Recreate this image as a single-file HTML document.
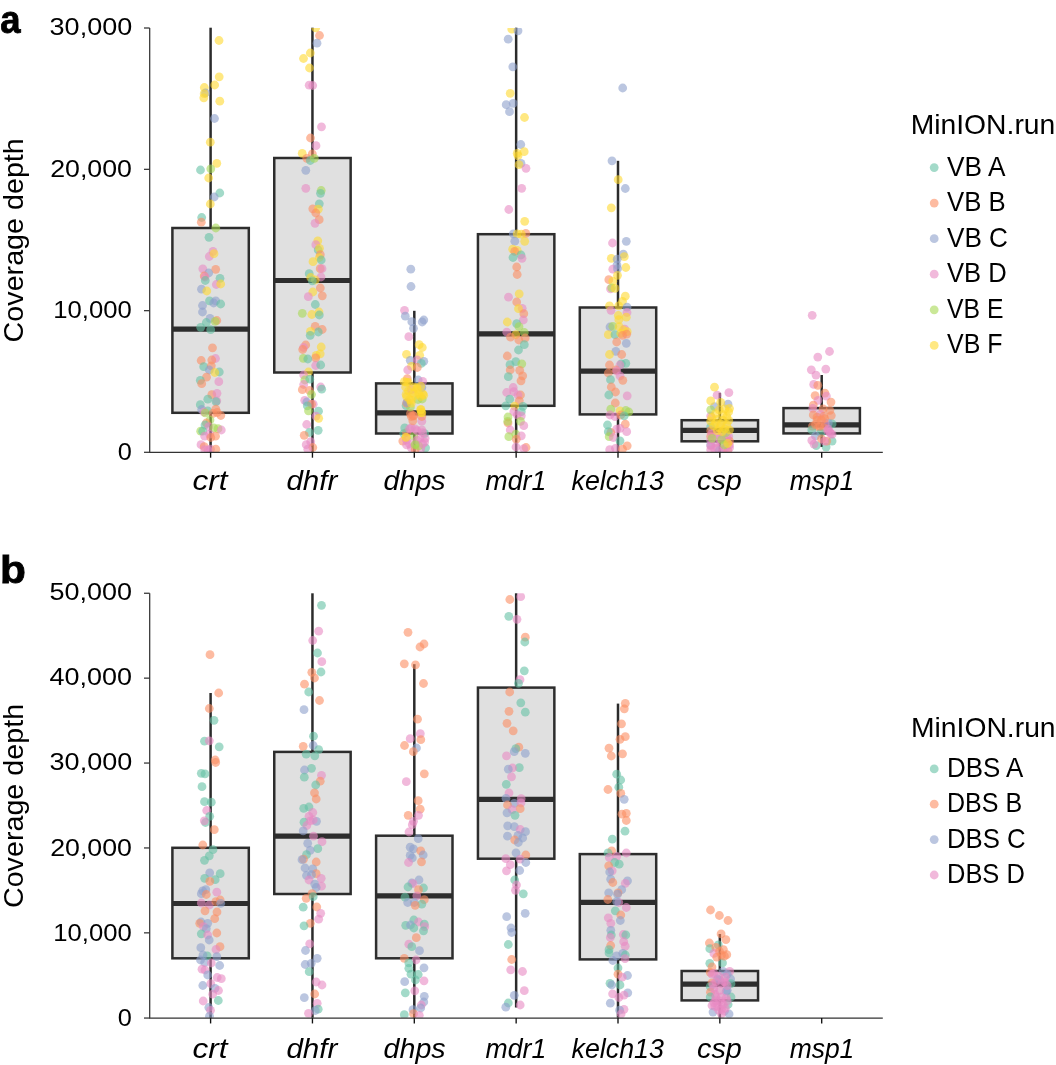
<!DOCTYPE html>
<html lang="en"><head><meta charset="utf-8"><title>Coverage depth</title>
<style>html,body{margin:0;padding:0;background:#fff}body{width:1056px;height:1065px;overflow:hidden}svg{display:block}
text{font-family:"Liberation Sans",sans-serif;fill:#000}.it{font-style:italic}.pl{font-weight:bold}
.bx{fill:#e0e0e0;stroke:#2d2d2d;stroke-width:2.5}.ln{stroke:#2b2b2b;stroke-width:2.5;fill:none}.md{stroke:#2d2d2d;stroke-width:5.2;fill:none}.ax{stroke:#333;stroke-width:1.25;fill:none}.tk{stroke:#111;stroke-width:1.35;fill:none}
.t{fill:#66C2A5;fill-opacity:0.6}
.o{fill:#FC8D62;fill-opacity:0.6}
.b{fill:#8DA0CB;fill-opacity:0.6}
.p{fill:#E78AC3;fill-opacity:0.6}
.g{fill:#A6D854;fill-opacity:0.6}
.y{fill:#FFD92F;fill-opacity:0.6}
</style></head><body>
<svg width="1056" height="1065" viewBox="0 0 1056 1065">
<rect width="1056" height="1065" fill="#fff"/>
<line class="ln" x1="210.60" y1="27.70" x2="210.60" y2="228.00"/>
<line class="ln" x1="210.60" y1="412.80" x2="210.60" y2="452.00"/>
<rect class="bx" x="172.40" y="228.00" width="76.40" height="184.80"/>
<line class="md" x1="172.40" y1="329.20" x2="248.80" y2="329.20"/>
<line class="ln" x1="312.45" y1="27.70" x2="312.45" y2="158.00"/>
<line class="ln" x1="312.45" y1="372.50" x2="312.45" y2="452.00"/>
<rect class="bx" x="274.25" y="158.00" width="76.40" height="214.50"/>
<line class="md" x1="274.25" y1="280.50" x2="350.65" y2="280.50"/>
<line class="ln" x1="414.30" y1="310.80" x2="414.30" y2="383.40"/>
<line class="ln" x1="414.30" y1="433.50" x2="414.30" y2="452.00"/>
<rect class="bx" x="376.10" y="383.40" width="76.40" height="50.10"/>
<line class="md" x1="376.10" y1="412.80" x2="452.50" y2="412.80"/>
<line class="ln" x1="516.15" y1="27.70" x2="516.15" y2="234.20"/>
<line class="ln" x1="516.15" y1="405.80" x2="516.15" y2="452.00"/>
<rect class="bx" x="477.95" y="234.20" width="76.40" height="171.60"/>
<line class="md" x1="477.95" y1="333.80" x2="554.35" y2="333.80"/>
<line class="ln" x1="618.00" y1="160.80" x2="618.00" y2="307.50"/>
<line class="ln" x1="618.00" y1="414.40" x2="618.00" y2="452.00"/>
<rect class="bx" x="579.80" y="307.50" width="76.40" height="106.90"/>
<line class="md" x1="579.80" y1="371.20" x2="656.20" y2="371.20"/>
<line class="ln" x1="719.85" y1="392.80" x2="719.85" y2="420.20"/>
<line class="ln" x1="719.85" y1="441.30" x2="719.85" y2="452.00"/>
<rect class="bx" x="681.65" y="420.20" width="76.40" height="21.10"/>
<line class="md" x1="681.65" y1="430.30" x2="758.05" y2="430.30"/>
<line class="ln" x1="821.70" y1="375.00" x2="821.70" y2="408.10"/>
<line class="ln" x1="821.70" y1="433.40" x2="821.70" y2="447.00"/>
<rect class="bx" x="783.50" y="408.10" width="76.40" height="25.30"/>
<line class="md" x1="783.50" y1="424.80" x2="859.90" y2="424.80"/>
<clipPath id="cpa"><rect x="149.50" y="28.00" width="733.30" height="424.00"/></clipPath>
<g clip-path="url(#cpa)">
<circle class="y" cx="219.0" cy="40.5" r="4.4"/>
<circle class="y" cx="219.2" cy="76.8" r="4.4"/>
<circle class="y" cx="214.7" cy="85.0" r="4.4"/>
<circle class="y" cx="204.3" cy="87.5" r="4.4"/>
<circle class="b" cx="205.5" cy="93.0" r="4.4"/>
<circle class="y" cx="204.2" cy="93.7" r="4.4"/>
<circle class="y" cx="203.8" cy="97.8" r="4.4"/>
<circle class="y" cx="219.8" cy="101.2" r="4.4"/>
<circle class="b" cx="214.5" cy="118.5" r="4.4"/>
<circle class="y" cx="210.3" cy="142.2" r="4.4"/>
<circle class="y" cx="216.8" cy="163.3" r="4.4"/>
<circle class="t" cx="200.5" cy="170.0" r="4.4"/>
<circle class="g" cx="210.8" cy="168.8" r="4.4"/>
<circle class="y" cx="208.7" cy="178.0" r="4.4"/>
<circle class="t" cx="219.8" cy="193.0" r="4.4"/>
<circle class="b" cx="214.2" cy="197.0" r="4.4"/>
<circle class="y" cx="210.3" cy="204.0" r="4.4"/>
<circle class="t" cx="201.7" cy="217.5" r="4.4"/>
<circle class="o" cx="201.3" cy="222.2" r="4.4"/>
<circle class="g" cx="215.8" cy="228.0" r="4.4"/>
<circle class="t" cx="209.0" cy="237.3" r="4.4"/>
<circle class="p" cx="213.0" cy="251.3" r="4.4"/>
<circle class="p" cx="209.3" cy="256.5" r="4.4"/>
<circle class="y" cx="214.0" cy="253.7" r="4.4"/>
<circle class="p" cx="202.8" cy="268.8" r="4.4"/>
<circle class="o" cx="215.7" cy="269.3" r="4.4"/>
<circle class="b" cx="208.7" cy="273.0" r="4.4"/>
<circle class="o" cx="204.2" cy="276.0" r="4.4"/>
<circle class="p" cx="205.0" cy="277.0" r="4.4"/>
<circle class="t" cx="205.3" cy="280.5" r="4.4"/>
<circle class="t" cx="220.0" cy="278.3" r="4.4"/>
<circle class="p" cx="216.3" cy="284.5" r="4.4"/>
<circle class="y" cx="220.7" cy="284.0" r="4.4"/>
<circle class="b" cx="201.5" cy="289.2" r="4.4"/>
<circle class="y" cx="206.8" cy="291.0" r="4.4"/>
<circle class="t" cx="209.5" cy="300.8" r="4.4"/>
<circle class="b" cx="215.7" cy="300.8" r="4.4"/>
<circle class="b" cx="213.7" cy="303.0" r="4.4"/>
<circle class="t" cx="220.7" cy="304.0" r="4.4"/>
<circle class="b" cx="202.5" cy="305.5" r="4.4"/>
<circle class="b" cx="202.5" cy="312.0" r="4.4"/>
<circle class="b" cx="210.0" cy="318.3" r="4.4"/>
<circle class="o" cx="216.8" cy="320.5" r="4.4"/>
<circle class="g" cx="215.2" cy="321.3" r="4.4"/>
<circle class="t" cx="206.3" cy="322.5" r="4.4"/>
<circle class="t" cx="200.7" cy="327.3" r="4.4"/>
<circle class="t" cx="210.7" cy="329.7" r="4.4"/>
<circle class="o" cx="212.5" cy="347.8" r="4.4"/>
<circle class="p" cx="215.5" cy="358.5" r="4.4"/>
<circle class="o" cx="201.2" cy="360.5" r="4.4"/>
<circle class="o" cx="211.8" cy="360.0" r="4.4"/>
<circle class="t" cx="203.7" cy="366.7" r="4.4"/>
<circle class="o" cx="211.3" cy="365.8" r="4.4"/>
<circle class="b" cx="209.3" cy="370.0" r="4.4"/>
<circle class="t" cx="219.3" cy="372.0" r="4.4"/>
<circle class="y" cx="214.8" cy="372.5" r="4.4"/>
<circle class="o" cx="206.5" cy="377.2" r="4.4"/>
<circle class="t" cx="200.3" cy="380.3" r="4.4"/>
<circle class="o" cx="201.7" cy="383.7" r="4.4"/>
<circle class="p" cx="218.8" cy="381.7" r="4.4"/>
<circle class="o" cx="211.8" cy="394.7" r="4.4"/>
<circle class="p" cx="217.0" cy="393.3" r="4.4"/>
<circle class="t" cx="207.8" cy="399.2" r="4.4"/>
<circle class="p" cx="216.8" cy="400.8" r="4.4"/>
<circle class="t" cx="216.0" cy="401.7" r="4.4"/>
<circle class="t" cx="200.3" cy="404.7" r="4.4"/>
<circle class="t" cx="207.7" cy="410.8" r="4.4"/>
<circle class="b" cx="201.7" cy="409.5" r="4.4"/>
<circle class="p" cx="203.8" cy="412.0" r="4.4"/>
<circle class="g" cx="205.2" cy="412.8" r="4.4"/>
<circle class="o" cx="215.8" cy="409.2" r="4.4"/>
<circle class="o" cx="217.2" cy="412.5" r="4.4"/>
<circle class="o" cx="220.8" cy="415.5" r="4.4"/>
<circle class="o" cx="213.0" cy="413.3" r="4.4"/>
<circle class="g" cx="210.0" cy="420.0" r="4.4"/>
<circle class="o" cx="206.3" cy="423.0" r="4.4"/>
<circle class="t" cx="205.0" cy="425.0" r="4.4"/>
<circle class="p" cx="208.8" cy="426.7" r="4.4"/>
<circle class="g" cx="213.8" cy="428.0" r="4.4"/>
<circle class="g" cx="218.0" cy="428.7" r="4.4"/>
<circle class="p" cx="221.3" cy="430.0" r="4.4"/>
<circle class="g" cx="200.7" cy="431.2" r="4.4"/>
<circle class="t" cx="202.7" cy="431.2" r="4.4"/>
<circle class="p" cx="209.7" cy="434.2" r="4.4"/>
<circle class="p" cx="204.7" cy="436.2" r="4.4"/>
<circle class="o" cx="215.5" cy="436.2" r="4.4"/>
<circle class="o" cx="210.8" cy="437.5" r="4.4"/>
<circle class="p" cx="201.0" cy="444.7" r="4.4"/>
<circle class="o" cx="204.2" cy="446.7" r="4.4"/>
<circle class="p" cx="204.7" cy="449.7" r="4.4"/>
<circle class="p" cx="210.5" cy="449.2" r="4.4"/>
<circle class="o" cx="215.8" cy="449.2" r="4.4"/>
<circle class="p" cx="208.0" cy="450.0" r="4.4"/>
<circle class="y" cx="315.7" cy="27.8" r="4.4"/>
<circle class="o" cx="319.5" cy="35.5" r="4.4"/>
<circle class="b" cx="317.0" cy="43.2" r="4.4"/>
<circle class="y" cx="310.3" cy="53.0" r="4.4"/>
<circle class="y" cx="303.5" cy="58.5" r="4.4"/>
<circle class="y" cx="309.5" cy="68.0" r="4.4"/>
<circle class="p" cx="309.2" cy="85.2" r="4.4"/>
<circle class="p" cx="312.7" cy="85.5" r="4.4"/>
<circle class="p" cx="321.5" cy="126.8" r="4.4"/>
<circle class="o" cx="310.5" cy="138.0" r="4.4"/>
<circle class="p" cx="316.0" cy="145.7" r="4.4"/>
<circle class="y" cx="302.2" cy="153.3" r="4.4"/>
<circle class="o" cx="312.3" cy="153.8" r="4.4"/>
<circle class="o" cx="306.8" cy="158.3" r="4.4"/>
<circle class="t" cx="310.3" cy="160.5" r="4.4"/>
<circle class="g" cx="314.3" cy="158.3" r="4.4"/>
<circle class="b" cx="305.8" cy="170.3" r="4.4"/>
<circle class="p" cx="305.8" cy="188.3" r="4.4"/>
<circle class="g" cx="321.2" cy="190.5" r="4.4"/>
<circle class="t" cx="320.5" cy="193.3" r="4.4"/>
<circle class="t" cx="319.3" cy="203.8" r="4.4"/>
<circle class="o" cx="312.8" cy="208.8" r="4.4"/>
<circle class="y" cx="318.3" cy="209.2" r="4.4"/>
<circle class="o" cx="315.8" cy="213.0" r="4.4"/>
<circle class="o" cx="319.2" cy="219.7" r="4.4"/>
<circle class="p" cx="315.0" cy="223.3" r="4.4"/>
<circle class="y" cx="317.8" cy="240.8" r="4.4"/>
<circle class="p" cx="315.8" cy="244.7" r="4.4"/>
<circle class="t" cx="318.2" cy="250.0" r="4.4"/>
<circle class="y" cx="319.5" cy="248.3" r="4.4"/>
<circle class="o" cx="320.3" cy="254.7" r="4.4"/>
<circle class="y" cx="319.3" cy="257.5" r="4.4"/>
<circle class="t" cx="321.2" cy="260.0" r="4.4"/>
<circle class="y" cx="313.0" cy="261.7" r="4.4"/>
<circle class="o" cx="320.2" cy="268.7" r="4.4"/>
<circle class="p" cx="322.0" cy="268.7" r="4.4"/>
<circle class="t" cx="309.2" cy="273.7" r="4.4"/>
<circle class="p" cx="321.0" cy="277.0" r="4.4"/>
<circle class="y" cx="310.7" cy="277.5" r="4.4"/>
<circle class="y" cx="315.3" cy="280.0" r="4.4"/>
<circle class="t" cx="312.3" cy="280.8" r="4.4"/>
<circle class="o" cx="320.3" cy="288.0" r="4.4"/>
<circle class="y" cx="312.8" cy="292.0" r="4.4"/>
<circle class="p" cx="308.3" cy="296.7" r="4.4"/>
<circle class="o" cx="322.3" cy="295.8" r="4.4"/>
<circle class="t" cx="315.3" cy="304.5" r="4.4"/>
<circle class="g" cx="302.3" cy="313.3" r="4.4"/>
<circle class="y" cx="311.8" cy="314.5" r="4.4"/>
<circle class="y" cx="319.0" cy="312.0" r="4.4"/>
<circle class="t" cx="319.3" cy="315.0" r="4.4"/>
<circle class="o" cx="315.2" cy="326.3" r="4.4"/>
<circle class="o" cx="322.2" cy="329.5" r="4.4"/>
<circle class="t" cx="318.3" cy="332.0" r="4.4"/>
<circle class="y" cx="310.5" cy="331.3" r="4.4"/>
<circle class="t" cx="310.2" cy="335.3" r="4.4"/>
<circle class="o" cx="305.7" cy="345.0" r="4.4"/>
<circle class="p" cx="303.5" cy="347.5" r="4.4"/>
<circle class="o" cx="302.7" cy="349.5" r="4.4"/>
<circle class="y" cx="321.2" cy="347.0" r="4.4"/>
<circle class="y" cx="320.2" cy="353.8" r="4.4"/>
<circle class="y" cx="316.2" cy="355.3" r="4.4"/>
<circle class="o" cx="315.7" cy="357.8" r="4.4"/>
<circle class="g" cx="303.3" cy="358.3" r="4.4"/>
<circle class="t" cx="307.8" cy="359.0" r="4.4"/>
<circle class="p" cx="315.7" cy="365.5" r="4.4"/>
<circle class="t" cx="320.7" cy="365.0" r="4.4"/>
<circle class="y" cx="308.5" cy="372.0" r="4.4"/>
<circle class="p" cx="303.7" cy="375.0" r="4.4"/>
<circle class="g" cx="304.8" cy="380.0" r="4.4"/>
<circle class="t" cx="309.8" cy="379.2" r="4.4"/>
<circle class="p" cx="303.7" cy="384.5" r="4.4"/>
<circle class="o" cx="302.3" cy="389.7" r="4.4"/>
<circle class="p" cx="320.7" cy="387.0" r="4.4"/>
<circle class="t" cx="321.7" cy="389.2" r="4.4"/>
<circle class="o" cx="309.5" cy="390.5" r="4.4"/>
<circle class="g" cx="311.5" cy="394.5" r="4.4"/>
<circle class="p" cx="304.7" cy="400.3" r="4.4"/>
<circle class="b" cx="306.8" cy="402.0" r="4.4"/>
<circle class="p" cx="313.2" cy="404.2" r="4.4"/>
<circle class="o" cx="311.5" cy="404.2" r="4.4"/>
<circle class="t" cx="307.3" cy="405.8" r="4.4"/>
<circle class="g" cx="308.5" cy="410.8" r="4.4"/>
<circle class="t" cx="318.5" cy="411.2" r="4.4"/>
<circle class="p" cx="316.0" cy="416.2" r="4.4"/>
<circle class="y" cx="318.7" cy="418.3" r="4.4"/>
<circle class="p" cx="306.7" cy="424.5" r="4.4"/>
<circle class="t" cx="318.2" cy="430.3" r="4.4"/>
<circle class="t" cx="309.3" cy="432.5" r="4.4"/>
<circle class="o" cx="304.2" cy="435.3" r="4.4"/>
<circle class="p" cx="310.7" cy="441.7" r="4.4"/>
<circle class="p" cx="306.2" cy="444.7" r="4.4"/>
<circle class="o" cx="312.8" cy="447.5" r="4.4"/>
<circle class="p" cx="307.8" cy="449.2" r="4.4"/>
<circle class="b" cx="410.8" cy="269.2" r="4.4"/>
<circle class="b" cx="411.0" cy="286.5" r="4.4"/>
<circle class="p" cx="404.5" cy="310.3" r="4.4"/>
<circle class="b" cx="405.3" cy="316.2" r="4.4"/>
<circle class="b" cx="411.8" cy="321.7" r="4.4"/>
<circle class="b" cx="422.2" cy="322.0" r="4.4"/>
<circle class="b" cx="423.8" cy="320.0" r="4.4"/>
<circle class="b" cx="413.5" cy="328.3" r="4.4"/>
<circle class="p" cx="408.8" cy="336.7" r="4.4"/>
<circle class="y" cx="419.2" cy="344.7" r="4.4"/>
<circle class="y" cx="422.3" cy="347.5" r="4.4"/>
<circle class="y" cx="406.5" cy="354.3" r="4.4"/>
<circle class="y" cx="419.7" cy="355.3" r="4.4"/>
<circle class="b" cx="410.2" cy="360.3" r="4.4"/>
<circle class="p" cx="417.2" cy="360.0" r="4.4"/>
<circle class="b" cx="423.8" cy="361.3" r="4.4"/>
<circle class="t" cx="421.3" cy="363.3" r="4.4"/>
<circle class="y" cx="411.5" cy="366.3" r="4.4"/>
<circle class="o" cx="417.3" cy="367.5" r="4.4"/>
<circle class="p" cx="407.7" cy="370.0" r="4.4"/>
<circle class="o" cx="407.3" cy="378.7" r="4.4"/>
<circle class="b" cx="418.2" cy="380.0" r="4.4"/>
<circle class="p" cx="422.7" cy="381.3" r="4.4"/>
<circle class="y" cx="404.3" cy="381.7" r="4.4"/>
<circle class="y" cx="408.5" cy="382.5" r="4.4"/>
<circle class="t" cx="425.6" cy="447.8" r="4.4"/>
<circle class="t" cx="403.8" cy="433.6" r="4.4"/>
<circle class="t" cx="424.6" cy="433.6" r="4.4"/>
<circle class="o" cx="402.8" cy="441.1" r="4.4"/>
<circle class="p" cx="406.6" cy="444.9" r="4.4"/>
<circle class="p" cx="411.3" cy="447.8" r="4.4"/>
<circle class="p" cx="420.8" cy="448.7" r="4.4"/>
<circle class="o" cx="415.1" cy="449.7" r="4.4"/>
<circle class="p" cx="424.6" cy="442.1" r="4.4"/>
<circle class="p" cx="419.9" cy="438.3" r="4.4"/>
<circle class="p" cx="425.1" cy="438.3" r="4.4"/>
<circle class="g" cx="415.6" cy="444.0" r="4.4"/>
<circle class="g" cx="418.5" cy="445.9" r="4.4"/>
<circle class="g" cx="413.7" cy="436.4" r="4.4"/>
<circle class="y" cx="406.1" cy="437.3" r="4.4"/>
<circle class="o" cx="406.6" cy="432.6" r="4.4"/>
<circle class="t" cx="404.7" cy="427.9" r="4.4"/>
<circle class="p" cx="411.3" cy="427.9" r="4.4"/>
<circle class="p" cx="415.1" cy="428.8" r="4.4"/>
<circle class="p" cx="421.8" cy="429.8" r="4.4"/>
<circle class="o" cx="412.8" cy="420.8" r="4.4"/>
<circle class="p" cx="421.8" cy="421.2" r="4.4"/>
<circle class="o" cx="410.4" cy="413.7" r="4.4"/>
<circle class="o" cx="421.8" cy="416.5" r="4.4"/>
<circle class="o" cx="413.7" cy="416.0" r="4.4"/>
<circle class="y" cx="420.8" cy="409.4" r="4.4"/>
<circle class="y" cx="421.8" cy="412.7" r="4.4"/>
<circle class="t" cx="406.1" cy="405.6" r="4.4"/>
<circle class="g" cx="410.4" cy="407.0" r="4.4"/>
<circle class="o" cx="406.6" cy="403.2" r="4.4"/>
<circle class="b" cx="407.1" cy="402.3" r="4.4"/>
<circle class="y" cx="411.3" cy="403.2" r="4.4"/>
<circle class="g" cx="418.0" cy="399.5" r="4.4"/>
<circle class="g" cx="422.2" cy="399.0" r="4.4"/>
<circle class="y" cx="409.5" cy="399.5" r="4.4"/>
<circle class="y" cx="406.1" cy="394.3" r="4.4"/>
<circle class="y" cx="415.1" cy="395.7" r="4.4"/>
<circle class="y" cx="423.7" cy="395.2" r="4.4"/>
<circle class="p" cx="411.3" cy="389.5" r="4.4"/>
<circle class="b" cx="421.8" cy="387.6" r="4.4"/>
<circle class="y" cx="405.7" cy="387.2" r="4.4"/>
<circle class="y" cx="417.0" cy="387.6" r="4.4"/>
<circle class="y" cx="420.8" cy="386.2" r="4.4"/>
<circle class="p" cx="409.5" cy="428.8" r="4.4"/>
<circle class="p" cx="417.0" cy="430.7" r="4.4"/>
<circle class="p" cx="422.7" cy="432.6" r="4.4"/>
<circle class="p" cx="409.5" cy="444.0" r="4.4"/>
<circle class="p" cx="422.7" cy="444.0" r="4.4"/>
<circle class="p" cx="417.0" cy="440.2" r="4.4"/>
<circle class="p" cx="406.6" cy="440.2" r="4.4"/>
<circle class="g" cx="415.1" cy="444.9" r="4.4"/>
<circle class="y" cx="406.1" cy="437.3" r="4.4"/>
<circle class="o" cx="413.2" cy="415.6" r="4.4"/>
<circle class="o" cx="411.3" cy="416.5" r="4.4"/>
<circle class="y" cx="420.8" cy="409.9" r="4.4"/>
<circle class="y" cx="421.3" cy="412.7" r="4.4"/>
<circle class="y" cx="406.6" cy="382.4" r="4.4"/>
<circle class="y" cx="408.5" cy="390.9" r="4.4"/>
<circle class="y" cx="413.2" cy="392.8" r="4.4"/>
<circle class="y" cx="418.9" cy="393.8" r="4.4"/>
<circle class="y" cx="420.8" cy="396.6" r="4.4"/>
<circle class="y" cx="411.3" cy="400.4" r="4.4"/>
<circle class="y" cx="406.6" cy="396.6" r="4.4"/>
<circle class="y" cx="417.0" cy="389.0" r="4.4"/>
<circle class="y" cx="414.2" cy="387.2" r="4.4"/>
<circle class="y" cx="422.7" cy="393.8" r="4.4"/>
<circle class="y" cx="511.8" cy="29.2" r="4.4"/>
<circle class="b" cx="518.0" cy="30.8" r="4.4"/>
<circle class="b" cx="508.2" cy="39.2" r="4.4"/>
<circle class="b" cx="512.8" cy="66.8" r="4.4"/>
<circle class="y" cx="510.2" cy="93.3" r="4.4"/>
<circle class="b" cx="506.2" cy="104.7" r="4.4"/>
<circle class="b" cx="513.2" cy="103.3" r="4.4"/>
<circle class="b" cx="509.5" cy="111.7" r="4.4"/>
<circle class="y" cx="524.5" cy="117.5" r="4.4"/>
<circle class="b" cx="520.8" cy="144.5" r="4.4"/>
<circle class="y" cx="524.2" cy="151.7" r="4.4"/>
<circle class="y" cx="517.2" cy="153.3" r="4.4"/>
<circle class="y" cx="518.0" cy="155.8" r="4.4"/>
<circle class="b" cx="521.0" cy="163.3" r="4.4"/>
<circle class="y" cx="519.0" cy="164.7" r="4.4"/>
<circle class="p" cx="526.0" cy="168.3" r="4.4"/>
<circle class="p" cx="521.7" cy="188.3" r="4.4"/>
<circle class="p" cx="508.8" cy="209.5" r="4.4"/>
<circle class="y" cx="524.7" cy="221.3" r="4.4"/>
<circle class="b" cx="513.3" cy="233.8" r="4.4"/>
<circle class="y" cx="517.2" cy="233.8" r="4.4"/>
<circle class="o" cx="525.8" cy="233.3" r="4.4"/>
<circle class="y" cx="521.3" cy="234.2" r="4.4"/>
<circle class="b" cx="514.8" cy="241.2" r="4.4"/>
<circle class="y" cx="524.7" cy="241.3" r="4.4"/>
<circle class="y" cx="512.7" cy="249.2" r="4.4"/>
<circle class="y" cx="517.2" cy="250.3" r="4.4"/>
<circle class="o" cx="514.7" cy="251.3" r="4.4"/>
<circle class="t" cx="521.0" cy="255.0" r="4.4"/>
<circle class="t" cx="513.0" cy="257.5" r="4.4"/>
<circle class="p" cx="522.0" cy="258.3" r="4.4"/>
<circle class="o" cx="516.7" cy="267.0" r="4.4"/>
<circle class="o" cx="517.2" cy="274.5" r="4.4"/>
<circle class="y" cx="519.2" cy="293.8" r="4.4"/>
<circle class="p" cx="508.5" cy="297.2" r="4.4"/>
<circle class="o" cx="516.7" cy="302.0" r="4.4"/>
<circle class="p" cx="522.2" cy="308.3" r="4.4"/>
<circle class="y" cx="518.5" cy="308.7" r="4.4"/>
<circle class="o" cx="523.8" cy="313.7" r="4.4"/>
<circle class="p" cx="523.3" cy="320.0" r="4.4"/>
<circle class="y" cx="507.3" cy="322.0" r="4.4"/>
<circle class="t" cx="516.7" cy="323.7" r="4.4"/>
<circle class="g" cx="519.0" cy="326.7" r="4.4"/>
<circle class="p" cx="506.8" cy="332.2" r="4.4"/>
<circle class="g" cx="524.3" cy="332.5" r="4.4"/>
<circle class="y" cx="515.8" cy="334.7" r="4.4"/>
<circle class="o" cx="510.5" cy="337.2" r="4.4"/>
<circle class="o" cx="518.8" cy="340.0" r="4.4"/>
<circle class="o" cx="525.2" cy="338.0" r="4.4"/>
<circle class="t" cx="524.3" cy="344.7" r="4.4"/>
<circle class="t" cx="518.5" cy="350.0" r="4.4"/>
<circle class="o" cx="507.3" cy="356.0" r="4.4"/>
<circle class="t" cx="515.8" cy="361.7" r="4.4"/>
<circle class="t" cx="510.0" cy="364.7" r="4.4"/>
<circle class="g" cx="521.8" cy="363.8" r="4.4"/>
<circle class="o" cx="510.2" cy="370.0" r="4.4"/>
<circle class="o" cx="519.7" cy="370.3" r="4.4"/>
<circle class="t" cx="508.3" cy="376.7" r="4.4"/>
<circle class="o" cx="522.7" cy="375.8" r="4.4"/>
<circle class="o" cx="521.0" cy="380.8" r="4.4"/>
<circle class="p" cx="513.2" cy="387.5" r="4.4"/>
<circle class="p" cx="506.7" cy="392.5" r="4.4"/>
<circle class="p" cx="513.8" cy="391.7" r="4.4"/>
<circle class="o" cx="520.5" cy="395.0" r="4.4"/>
<circle class="p" cx="518.0" cy="395.0" r="4.4"/>
<circle class="t" cx="509.7" cy="399.2" r="4.4"/>
<circle class="o" cx="519.3" cy="400.8" r="4.4"/>
<circle class="t" cx="505.8" cy="405.8" r="4.4"/>
<circle class="t" cx="523.0" cy="406.3" r="4.4"/>
<circle class="y" cx="514.7" cy="406.2" r="4.4"/>
<circle class="p" cx="513.8" cy="411.7" r="4.4"/>
<circle class="t" cx="521.3" cy="411.7" r="4.4"/>
<circle class="p" cx="517.2" cy="415.0" r="4.4"/>
<circle class="p" cx="521.3" cy="415.8" r="4.4"/>
<circle class="g" cx="508.0" cy="417.0" r="4.4"/>
<circle class="g" cx="520.5" cy="421.3" r="4.4"/>
<circle class="o" cx="508.0" cy="423.0" r="4.4"/>
<circle class="g" cx="507.7" cy="421.3" r="4.4"/>
<circle class="p" cx="523.8" cy="425.7" r="4.4"/>
<circle class="p" cx="510.2" cy="430.0" r="4.4"/>
<circle class="g" cx="515.8" cy="434.2" r="4.4"/>
<circle class="g" cx="508.8" cy="436.7" r="4.4"/>
<circle class="p" cx="521.3" cy="435.8" r="4.4"/>
<circle class="o" cx="516.3" cy="439.2" r="4.4"/>
<circle class="p" cx="516.0" cy="447.0" r="4.4"/>
<circle class="o" cx="526.0" cy="447.5" r="4.4"/>
<circle class="p" cx="523.8" cy="448.7" r="4.4"/>
<circle class="b" cx="622.7" cy="88.0" r="4.4"/>
<circle class="b" cx="612.0" cy="160.8" r="4.4"/>
<circle class="y" cx="618.2" cy="179.7" r="4.4"/>
<circle class="b" cx="625.3" cy="188.5" r="4.4"/>
<circle class="y" cx="611.3" cy="207.8" r="4.4"/>
<circle class="p" cx="612.5" cy="243.0" r="4.4"/>
<circle class="b" cx="626.3" cy="241.3" r="4.4"/>
<circle class="b" cx="623.3" cy="254.2" r="4.4"/>
<circle class="y" cx="611.3" cy="258.3" r="4.4"/>
<circle class="y" cx="624.3" cy="256.7" r="4.4"/>
<circle class="b" cx="617.2" cy="259.2" r="4.4"/>
<circle class="b" cx="617.0" cy="265.0" r="4.4"/>
<circle class="y" cx="625.8" cy="267.5" r="4.4"/>
<circle class="p" cx="612.8" cy="269.2" r="4.4"/>
<circle class="b" cx="617.5" cy="268.7" r="4.4"/>
<circle class="y" cx="617.5" cy="275.3" r="4.4"/>
<circle class="o" cx="608.8" cy="279.7" r="4.4"/>
<circle class="y" cx="612.8" cy="281.2" r="4.4"/>
<circle class="p" cx="610.5" cy="288.8" r="4.4"/>
<circle class="g" cx="611.7" cy="287.8" r="4.4"/>
<circle class="y" cx="615.0" cy="288.3" r="4.4"/>
<circle class="y" cx="625.3" cy="296.2" r="4.4"/>
<circle class="y" cx="622.5" cy="301.3" r="4.4"/>
<circle class="y" cx="609.5" cy="305.8" r="4.4"/>
<circle class="y" cx="618.7" cy="305.8" r="4.4"/>
<circle class="b" cx="627.0" cy="307.2" r="4.4"/>
<circle class="p" cx="611.0" cy="310.3" r="4.4"/>
<circle class="p" cx="627.0" cy="312.5" r="4.4"/>
<circle class="y" cx="618.3" cy="315.5" r="4.4"/>
<circle class="y" cx="626.3" cy="317.2" r="4.4"/>
<circle class="y" cx="618.8" cy="319.7" r="4.4"/>
<circle class="b" cx="610.0" cy="327.0" r="4.4"/>
<circle class="g" cx="612.8" cy="326.3" r="4.4"/>
<circle class="y" cx="619.2" cy="326.7" r="4.4"/>
<circle class="p" cx="624.7" cy="329.2" r="4.4"/>
<circle class="y" cx="623.3" cy="330.0" r="4.4"/>
<circle class="y" cx="627.2" cy="331.7" r="4.4"/>
<circle class="y" cx="608.3" cy="334.7" r="4.4"/>
<circle class="t" cx="615.0" cy="334.7" r="4.4"/>
<circle class="y" cx="620.8" cy="333.3" r="4.4"/>
<circle class="o" cx="626.7" cy="334.2" r="4.4"/>
<circle class="o" cx="622.5" cy="335.3" r="4.4"/>
<circle class="o" cx="616.7" cy="342.0" r="4.4"/>
<circle class="b" cx="626.3" cy="343.3" r="4.4"/>
<circle class="b" cx="615.8" cy="351.3" r="4.4"/>
<circle class="y" cx="609.5" cy="354.5" r="4.4"/>
<circle class="o" cx="621.7" cy="354.5" r="4.4"/>
<circle class="t" cx="621.3" cy="363.8" r="4.4"/>
<circle class="t" cx="625.8" cy="363.3" r="4.4"/>
<circle class="o" cx="609.5" cy="365.0" r="4.4"/>
<circle class="p" cx="620.0" cy="365.0" r="4.4"/>
<circle class="o" cx="615.8" cy="370.0" r="4.4"/>
<circle class="o" cx="608.3" cy="373.0" r="4.4"/>
<circle class="p" cx="616.7" cy="370.8" r="4.4"/>
<circle class="p" cx="620.0" cy="375.8" r="4.4"/>
<circle class="o" cx="622.8" cy="380.3" r="4.4"/>
<circle class="t" cx="610.5" cy="379.7" r="4.4"/>
<circle class="o" cx="611.3" cy="387.0" r="4.4"/>
<circle class="o" cx="615.5" cy="392.0" r="4.4"/>
<circle class="t" cx="608.8" cy="395.0" r="4.4"/>
<circle class="p" cx="627.2" cy="395.8" r="4.4"/>
<circle class="o" cx="615.3" cy="403.0" r="4.4"/>
<circle class="g" cx="610.8" cy="409.2" r="4.4"/>
<circle class="y" cx="620.0" cy="410.8" r="4.4"/>
<circle class="g" cx="625.8" cy="410.5" r="4.4"/>
<circle class="g" cx="628.8" cy="412.0" r="4.4"/>
<circle class="p" cx="610.0" cy="415.0" r="4.4"/>
<circle class="p" cx="615.0" cy="416.7" r="4.4"/>
<circle class="o" cx="620.8" cy="415.0" r="4.4"/>
<circle class="t" cx="624.2" cy="415.8" r="4.4"/>
<circle class="t" cx="607.5" cy="425.0" r="4.4"/>
<circle class="o" cx="625.3" cy="424.2" r="4.4"/>
<circle class="p" cx="620.0" cy="428.3" r="4.4"/>
<circle class="p" cx="616.7" cy="429.2" r="4.4"/>
<circle class="p" cx="626.7" cy="431.7" r="4.4"/>
<circle class="o" cx="610.8" cy="432.5" r="4.4"/>
<circle class="t" cx="608.3" cy="431.7" r="4.4"/>
<circle class="g" cx="609.2" cy="436.7" r="4.4"/>
<circle class="p" cx="613.3" cy="437.5" r="4.4"/>
<circle class="t" cx="620.0" cy="440.8" r="4.4"/>
<circle class="o" cx="627.2" cy="445.8" r="4.4"/>
<circle class="p" cx="609.7" cy="449.7" r="4.4"/>
<circle class="p" cx="615.5" cy="448.3" r="4.4"/>
<circle class="o" cx="622.5" cy="449.2" r="4.4"/>
<circle class="t" cx="710.7" cy="426.9" r="4.4"/>
<circle class="o" cx="710.7" cy="430.7" r="4.4"/>
<circle class="o" cx="710.7" cy="436.4" r="4.4"/>
<circle class="b" cx="710.7" cy="444.9" r="4.4"/>
<circle class="p" cx="711.7" cy="433.6" r="4.4"/>
<circle class="p" cx="717.3" cy="434.5" r="4.4"/>
<circle class="p" cx="723.0" cy="435.4" r="4.4"/>
<circle class="p" cx="728.7" cy="436.4" r="4.4"/>
<circle class="p" cx="710.7" cy="440.2" r="4.4"/>
<circle class="p" cx="715.5" cy="443.0" r="4.4"/>
<circle class="p" cx="721.1" cy="444.0" r="4.4"/>
<circle class="p" cx="726.8" cy="442.1" r="4.4"/>
<circle class="p" cx="729.5" cy="444.9" r="4.4"/>
<circle class="p" cx="710.7" cy="449.7" r="4.4"/>
<circle class="p" cx="714.5" cy="448.7" r="4.4"/>
<circle class="b" cx="719.2" cy="450.6" r="4.4"/>
<circle class="p" cx="723.0" cy="450.6" r="4.4"/>
<circle class="o" cx="727.8" cy="450.6" r="4.4"/>
<circle class="p" cx="729.5" cy="447.8" r="4.4"/>
<circle class="p" cx="710.7" cy="445.9" r="4.4"/>
<circle class="p" cx="717.3" cy="447.8" r="4.4"/>
<circle class="p" cx="724.9" cy="448.7" r="4.4"/>
<circle class="o" cx="729.5" cy="441.1" r="4.4"/>
<circle class="p" cx="726.8" cy="437.3" r="4.4"/>
<circle class="p" cx="719.2" cy="438.3" r="4.4"/>
<circle class="g" cx="712.1" cy="438.3" r="4.4"/>
<circle class="g" cx="721.6" cy="439.7" r="4.4"/>
<circle class="g" cx="724.5" cy="444.9" r="4.4"/>
<circle class="g" cx="725.9" cy="432.6" r="4.4"/>
<circle class="y" cx="727.8" cy="443.5" r="4.4"/>
<circle class="p" cx="710.7" cy="416.0" r="4.4"/>
<circle class="b" cx="714.5" cy="406.6" r="4.4"/>
<circle class="b" cx="728.0" cy="404.2" r="4.4"/>
<circle class="g" cx="710.7" cy="409.9" r="4.4"/>
<circle class="p" cx="717.1" cy="395.2" r="4.4"/>
<circle class="p" cx="728.9" cy="392.6" r="4.4"/>
<circle class="y" cx="724.9" cy="408.9" r="4.4"/>
<circle class="y" cx="719.2" cy="409.9" r="4.4"/>
<circle class="y" cx="728.7" cy="411.8" r="4.4"/>
<circle class="y" cx="715.5" cy="413.7" r="4.4"/>
<circle class="y" cx="723.0" cy="414.6" r="4.4"/>
<circle class="y" cx="726.8" cy="416.5" r="4.4"/>
<circle class="y" cx="711.7" cy="417.5" r="4.4"/>
<circle class="y" cx="717.3" cy="419.3" r="4.4"/>
<circle class="y" cx="723.0" cy="420.3" r="4.4"/>
<circle class="y" cx="728.7" cy="420.3" r="4.4"/>
<circle class="y" cx="710.7" cy="421.2" r="4.4"/>
<circle class="y" cx="715.5" cy="423.1" r="4.4"/>
<circle class="y" cx="721.1" cy="424.1" r="4.4"/>
<circle class="y" cx="726.8" cy="425.0" r="4.4"/>
<circle class="y" cx="713.6" cy="426.0" r="4.4"/>
<circle class="y" cx="719.2" cy="427.9" r="4.4"/>
<circle class="y" cx="724.9" cy="428.8" r="4.4"/>
<circle class="y" cx="729.5" cy="429.8" r="4.4"/>
<circle class="y" cx="717.3" cy="430.7" r="4.4"/>
<circle class="y" cx="722.1" cy="431.7" r="4.4"/>
<circle class="y" cx="714.5" cy="387.2" r="4.4"/>
<circle class="y" cx="710.7" cy="400.9" r="4.4"/>
<circle class="y" cx="720.7" cy="402.3" r="4.4"/>
<circle class="y" cx="729.5" cy="408.5" r="4.4"/>
<circle class="p" cx="812.2" cy="315.3" r="4.4"/>
<circle class="p" cx="829.5" cy="351.5" r="4.4"/>
<circle class="p" cx="817.8" cy="357.1" r="4.4"/>
<circle class="p" cx="811.3" cy="369.8" r="4.4"/>
<circle class="p" cx="825.8" cy="369.1" r="4.4"/>
<circle class="p" cx="816.0" cy="375.1" r="4.4"/>
<circle class="p" cx="813.7" cy="384.4" r="4.4"/>
<circle class="o" cx="817.8" cy="385.3" r="4.4"/>
<circle class="o" cx="824.9" cy="393.1" r="4.4"/>
<circle class="o" cx="815.1" cy="395.6" r="4.4"/>
<circle class="p" cx="826.4" cy="396.1" r="4.4"/>
<circle class="p" cx="818.1" cy="400.3" r="4.4"/>
<circle class="o" cx="831.0" cy="402.1" r="4.4"/>
<circle class="o" cx="813.3" cy="405.1" r="4.4"/>
<circle class="p" cx="812.8" cy="408.4" r="4.4"/>
<circle class="o" cx="823.1" cy="408.9" r="4.4"/>
<circle class="o" cx="829.8" cy="410.4" r="4.4"/>
<circle class="o" cx="813.3" cy="414.9" r="4.4"/>
<circle class="p" cx="820.3" cy="414.1" r="4.4"/>
<circle class="o" cx="831.3" cy="415.6" r="4.4"/>
<circle class="o" cx="823.8" cy="416.4" r="4.4"/>
<circle class="o" cx="817.0" cy="420.1" r="4.4"/>
<circle class="t" cx="832.1" cy="423.9" r="4.4"/>
<circle class="b" cx="828.3" cy="423.1" r="4.4"/>
<circle class="p" cx="825.3" cy="423.9" r="4.4"/>
<circle class="o" cx="812.5" cy="426.1" r="4.4"/>
<circle class="o" cx="818.5" cy="426.9" r="4.4"/>
<circle class="o" cx="823.8" cy="427.6" r="4.4"/>
<circle class="t" cx="811.8" cy="429.9" r="4.4"/>
<circle class="t" cx="820.8" cy="432.9" r="4.4"/>
<circle class="t" cx="826.1" cy="447.1" r="4.4"/>
<circle class="t" cx="832.1" cy="441.1" r="4.4"/>
<circle class="t" cx="816.3" cy="445.6" r="4.4"/>
<circle class="b" cx="815.5" cy="435.9" r="4.4"/>
<circle class="p" cx="828.3" cy="429.1" r="4.4"/>
<circle class="p" cx="829.8" cy="432.1" r="4.4"/>
<circle class="p" cx="832.1" cy="434.4" r="4.4"/>
<circle class="p" cx="811.8" cy="440.4" r="4.4"/>
<circle class="o" cx="821.5" cy="438.9" r="4.4"/>
<circle class="o" cx="826.8" cy="441.1" r="4.4"/>
<circle class="p" cx="824.6" cy="441.1" r="4.4"/>
<circle class="p" cx="814.0" cy="444.1" r="4.4"/>
<circle class="o" cx="817.0" cy="417.1" r="4.4"/>
<circle class="o" cx="821.5" cy="420.1" r="4.4"/>
<circle class="o" cx="815.5" cy="424.6" r="4.4"/>
<circle class="o" cx="820.0" cy="426.1" r="4.4"/>
<circle class="o" cx="824.6" cy="418.6" r="4.4"/>
<circle class="p" cx="827.6" cy="430.6" r="4.4"/>
<circle class="p" cx="830.6" cy="433.6" r="4.4"/>
</g>
<path class="ax" d="M149.70 28.00V452.30H882.80"/>
<line class="ax" x1="144.00" y1="452.30" x2="149.70" y2="452.30"/>
<text x="131.8" y="459.5" font-size="24" textLength="14.1" lengthAdjust="spacingAndGlyphs" text-anchor="end">0</text>
<line class="ax" x1="144.00" y1="310.67" x2="149.70" y2="310.67"/>
<text x="131.8" y="317.8" font-size="24" textLength="78.5" lengthAdjust="spacingAndGlyphs" text-anchor="end">10,000</text>
<line class="ax" x1="144.00" y1="169.33" x2="149.70" y2="169.33"/>
<text x="132.0" y="176.6" font-size="24" textLength="81.8" lengthAdjust="spacingAndGlyphs" text-anchor="end">20,000</text>
<line class="ax" x1="144.00" y1="28.00" x2="149.70" y2="28.00"/>
<text x="132.2" y="35.1" font-size="24" textLength="82.6" lengthAdjust="spacingAndGlyphs" text-anchor="end">30,000</text>
<line class="tk" x1="210.60" y1="452.30" x2="210.60" y2="457.70"/>
<text class="it" x="210.1" y="489.6" font-size="27.6" textLength="35.0" lengthAdjust="spacingAndGlyphs" text-anchor="middle">crt</text>
<line class="tk" x1="312.45" y1="452.30" x2="312.45" y2="457.70"/>
<text class="it" x="311.9" y="489.6" font-size="27.6" textLength="51.0" lengthAdjust="spacingAndGlyphs" text-anchor="middle">dhfr</text>
<line class="tk" x1="414.30" y1="452.30" x2="414.30" y2="457.70"/>
<text class="it" x="414.6" y="489.6" font-size="27.6" textLength="62.0" lengthAdjust="spacingAndGlyphs" text-anchor="middle">dhps</text>
<line class="tk" x1="516.15" y1="452.30" x2="516.15" y2="457.70"/>
<text class="it" x="515.9" y="489.6" font-size="27.6" textLength="60.6" lengthAdjust="spacingAndGlyphs" text-anchor="middle">mdr1</text>
<line class="tk" x1="618.00" y1="452.30" x2="618.00" y2="457.70"/>
<text class="it" x="617.7" y="489.6" font-size="27.6" textLength="92.4" lengthAdjust="spacingAndGlyphs" text-anchor="middle">kelch13</text>
<line class="tk" x1="719.85" y1="452.30" x2="719.85" y2="457.70"/>
<text class="it" x="719.5" y="489.6" font-size="27.6" textLength="44.8" lengthAdjust="spacingAndGlyphs" text-anchor="middle">csp</text>
<line class="tk" x1="821.70" y1="452.30" x2="821.70" y2="457.70"/>
<text class="it" x="822.0" y="489.6" font-size="27.6" textLength="64.7" lengthAdjust="spacingAndGlyphs" text-anchor="middle">msp1</text>
<text transform="translate(23.0 240.3) rotate(-90)" font-size="28.3" textLength="204.2" lengthAdjust="spacingAndGlyphs" text-anchor="middle">Coverage depth</text>
<text class="pl" x="0.2" y="33.2" font-size="38" textLength="20.3" lengthAdjust="spacingAndGlyphs" stroke="#000" stroke-width="0.8">a</text>
<text x="910.7" y="133.8" font-size="28" textLength="144.6" lengthAdjust="spacingAndGlyphs">MinION.run</text>
<circle class="t" cx="934.2" cy="167.6" r="4.4"/>
<text x="947.0" y="175.6" font-size="28.3" textLength="58.4" lengthAdjust="spacingAndGlyphs">VB A</text>
<circle class="o" cx="934.2" cy="203.1" r="4.4"/>
<text x="947.0" y="211.1" font-size="28.3" textLength="58.6" lengthAdjust="spacingAndGlyphs">VB B</text>
<circle class="b" cx="934.2" cy="238.7" r="4.4"/>
<text x="947.0" y="246.7" font-size="28.3" textLength="61.0" lengthAdjust="spacingAndGlyphs">VB C</text>
<circle class="p" cx="934.2" cy="274.2" r="4.4"/>
<text x="947.0" y="282.2" font-size="28.3" textLength="59.7" lengthAdjust="spacingAndGlyphs">VB D</text>
<circle class="g" cx="934.2" cy="309.8" r="4.4"/>
<text x="947.0" y="317.8" font-size="28.3" textLength="56.4" lengthAdjust="spacingAndGlyphs">VB E</text>
<circle class="y" cx="934.2" cy="345.4" r="4.4"/>
<text x="947.0" y="353.4" font-size="28.3" textLength="55.5" lengthAdjust="spacingAndGlyphs">VB F</text>
<line class="ln" x1="210.60" y1="693.00" x2="210.60" y2="847.80"/>
<line class="ln" x1="210.60" y1="958.30" x2="210.60" y2="1017.75"/>
<rect class="bx" x="172.40" y="847.80" width="76.40" height="110.50"/>
<line class="md" x1="172.40" y1="903.50" x2="248.80" y2="903.50"/>
<line class="ln" x1="312.45" y1="593.30" x2="312.45" y2="751.90"/>
<line class="ln" x1="312.45" y1="894.00" x2="312.45" y2="1017.75"/>
<rect class="bx" x="274.25" y="751.90" width="76.40" height="142.10"/>
<line class="md" x1="274.25" y1="836.10" x2="350.65" y2="836.10"/>
<line class="ln" x1="414.30" y1="664.20" x2="414.30" y2="835.70"/>
<line class="ln" x1="414.30" y1="958.30" x2="414.30" y2="1017.75"/>
<rect class="bx" x="376.10" y="835.70" width="76.40" height="122.60"/>
<line class="md" x1="376.10" y1="895.80" x2="452.50" y2="895.80"/>
<line class="ln" x1="516.15" y1="593.30" x2="516.15" y2="687.60"/>
<line class="ln" x1="516.15" y1="858.70" x2="516.15" y2="1007.50"/>
<rect class="bx" x="477.95" y="687.60" width="76.40" height="171.10"/>
<line class="md" x1="477.95" y1="799.30" x2="554.35" y2="799.30"/>
<line class="ln" x1="618.00" y1="703.60" x2="618.00" y2="854.10"/>
<line class="ln" x1="618.00" y1="959.40" x2="618.00" y2="1017.75"/>
<rect class="bx" x="579.80" y="854.10" width="76.40" height="105.30"/>
<line class="md" x1="579.80" y1="902.40" x2="656.20" y2="902.40"/>
<line class="ln" x1="719.85" y1="934.00" x2="719.85" y2="971.00"/>
<line class="ln" x1="719.85" y1="1000.40" x2="719.85" y2="1017.75"/>
<rect class="bx" x="681.65" y="971.00" width="76.40" height="29.40"/>
<line class="md" x1="681.65" y1="984.20" x2="758.05" y2="984.20"/>
<clipPath id="cpb"><rect x="149.50" y="593.25" width="733.30" height="424.50"/></clipPath>
<g clip-path="url(#cpb)">
<circle class="o" cx="210.0" cy="654.7" r="4.4"/>
<circle class="o" cx="218.7" cy="693.0" r="4.4"/>
<circle class="o" cx="209.3" cy="708.5" r="4.4"/>
<circle class="t" cx="214.0" cy="720.3" r="4.4"/>
<circle class="t" cx="204.5" cy="741.2" r="4.4"/>
<circle class="p" cx="209.3" cy="740.8" r="4.4"/>
<circle class="t" cx="219.2" cy="746.8" r="4.4"/>
<circle class="o" cx="215.2" cy="760.0" r="4.4"/>
<circle class="o" cx="215.7" cy="762.5" r="4.4"/>
<circle class="t" cx="201.3" cy="773.3" r="4.4"/>
<circle class="t" cx="205.0" cy="773.8" r="4.4"/>
<circle class="t" cx="202.0" cy="786.7" r="4.4"/>
<circle class="t" cx="204.5" cy="801.7" r="4.4"/>
<circle class="t" cx="211.3" cy="802.2" r="4.4"/>
<circle class="p" cx="206.7" cy="810.5" r="4.4"/>
<circle class="t" cx="209.7" cy="816.3" r="4.4"/>
<circle class="t" cx="205.5" cy="822.5" r="4.4"/>
<circle class="p" cx="204.3" cy="820.8" r="4.4"/>
<circle class="o" cx="214.3" cy="829.7" r="4.4"/>
<circle class="o" cx="202.8" cy="845.0" r="4.4"/>
<circle class="t" cx="213.0" cy="849.7" r="4.4"/>
<circle class="t" cx="209.3" cy="855.8" r="4.4"/>
<circle class="t" cx="204.5" cy="860.3" r="4.4"/>
<circle class="b" cx="209.7" cy="872.8" r="4.4"/>
<circle class="t" cx="220.2" cy="873.7" r="4.4"/>
<circle class="t" cx="204.7" cy="878.3" r="4.4"/>
<circle class="t" cx="215.2" cy="879.7" r="4.4"/>
<circle class="o" cx="209.8" cy="881.3" r="4.4"/>
<circle class="b" cx="202.7" cy="890.8" r="4.4"/>
<circle class="b" cx="205.8" cy="889.7" r="4.4"/>
<circle class="b" cx="201.3" cy="893.7" r="4.4"/>
<circle class="o" cx="206.3" cy="894.5" r="4.4"/>
<circle class="p" cx="216.8" cy="892.2" r="4.4"/>
<circle class="p" cx="201.3" cy="903.0" r="4.4"/>
<circle class="p" cx="209.3" cy="905.0" r="4.4"/>
<circle class="o" cx="215.8" cy="901.7" r="4.4"/>
<circle class="o" cx="220.2" cy="900.0" r="4.4"/>
<circle class="b" cx="220.7" cy="903.3" r="4.4"/>
<circle class="o" cx="205.0" cy="910.8" r="4.4"/>
<circle class="o" cx="217.0" cy="912.0" r="4.4"/>
<circle class="o" cx="214.7" cy="918.7" r="4.4"/>
<circle class="b" cx="201.0" cy="922.0" r="4.4"/>
<circle class="o" cx="199.7" cy="923.3" r="4.4"/>
<circle class="b" cx="207.7" cy="923.3" r="4.4"/>
<circle class="p" cx="203.5" cy="926.7" r="4.4"/>
<circle class="b" cx="206.3" cy="928.7" r="4.4"/>
<circle class="o" cx="216.8" cy="933.0" r="4.4"/>
<circle class="t" cx="201.3" cy="933.8" r="4.4"/>
<circle class="p" cx="207.7" cy="935.0" r="4.4"/>
<circle class="b" cx="209.2" cy="940.0" r="4.4"/>
<circle class="b" cx="200.8" cy="947.7" r="4.4"/>
<circle class="o" cx="220.0" cy="946.7" r="4.4"/>
<circle class="p" cx="216.0" cy="949.5" r="4.4"/>
<circle class="t" cx="207.2" cy="955.8" r="4.4"/>
<circle class="b" cx="203.0" cy="955.0" r="4.4"/>
<circle class="b" cx="216.8" cy="956.7" r="4.4"/>
<circle class="b" cx="200.5" cy="960.0" r="4.4"/>
<circle class="b" cx="204.7" cy="962.5" r="4.4"/>
<circle class="p" cx="211.3" cy="963.0" r="4.4"/>
<circle class="b" cx="219.7" cy="965.5" r="4.4"/>
<circle class="p" cx="202.0" cy="969.2" r="4.4"/>
<circle class="p" cx="205.0" cy="970.0" r="4.4"/>
<circle class="b" cx="207.7" cy="975.0" r="4.4"/>
<circle class="p" cx="217.2" cy="977.5" r="4.4"/>
<circle class="p" cx="221.3" cy="978.7" r="4.4"/>
<circle class="b" cx="202.8" cy="985.5" r="4.4"/>
<circle class="p" cx="210.8" cy="983.7" r="4.4"/>
<circle class="b" cx="215.0" cy="988.3" r="4.4"/>
<circle class="p" cx="218.5" cy="990.5" r="4.4"/>
<circle class="p" cx="212.7" cy="994.2" r="4.4"/>
<circle class="t" cx="218.3" cy="1000.5" r="4.4"/>
<circle class="p" cx="203.2" cy="1001.0" r="4.4"/>
<circle class="b" cx="208.8" cy="1007.5" r="4.4"/>
<circle class="p" cx="210.5" cy="1010.3" r="4.4"/>
<circle class="b" cx="209.5" cy="1016.2" r="4.4"/>
<circle class="t" cx="321.5" cy="605.3" r="4.4"/>
<circle class="p" cx="318.7" cy="631.2" r="4.4"/>
<circle class="p" cx="312.7" cy="640.5" r="4.4"/>
<circle class="t" cx="317.5" cy="653.0" r="4.4"/>
<circle class="p" cx="321.8" cy="661.7" r="4.4"/>
<circle class="o" cx="311.8" cy="672.3" r="4.4"/>
<circle class="t" cx="321.0" cy="672.0" r="4.4"/>
<circle class="o" cx="314.5" cy="678.0" r="4.4"/>
<circle class="o" cx="304.5" cy="684.2" r="4.4"/>
<circle class="t" cx="308.7" cy="692.0" r="4.4"/>
<circle class="o" cx="319.5" cy="700.5" r="4.4"/>
<circle class="b" cx="304.0" cy="709.7" r="4.4"/>
<circle class="t" cx="313.5" cy="736.2" r="4.4"/>
<circle class="o" cx="303.2" cy="746.3" r="4.4"/>
<circle class="b" cx="313.2" cy="745.5" r="4.4"/>
<circle class="t" cx="318.7" cy="749.7" r="4.4"/>
<circle class="t" cx="306.2" cy="754.2" r="4.4"/>
<circle class="t" cx="314.8" cy="755.8" r="4.4"/>
<circle class="t" cx="311.5" cy="768.3" r="4.4"/>
<circle class="b" cx="304.5" cy="770.0" r="4.4"/>
<circle class="t" cx="304.3" cy="777.2" r="4.4"/>
<circle class="p" cx="321.5" cy="775.3" r="4.4"/>
<circle class="o" cx="320.2" cy="781.2" r="4.4"/>
<circle class="t" cx="315.7" cy="785.0" r="4.4"/>
<circle class="o" cx="314.5" cy="792.8" r="4.4"/>
<circle class="o" cx="316.2" cy="799.0" r="4.4"/>
<circle class="t" cx="303.7" cy="808.3" r="4.4"/>
<circle class="t" cx="309.0" cy="807.0" r="4.4"/>
<circle class="p" cx="312.8" cy="812.5" r="4.4"/>
<circle class="p" cx="309.0" cy="816.3" r="4.4"/>
<circle class="t" cx="304.0" cy="822.2" r="4.4"/>
<circle class="p" cx="310.3" cy="820.8" r="4.4"/>
<circle class="b" cx="316.5" cy="821.3" r="4.4"/>
<circle class="p" cx="306.8" cy="825.5" r="4.4"/>
<circle class="p" cx="313.2" cy="820.0" r="4.4"/>
<circle class="b" cx="303.2" cy="830.8" r="4.4"/>
<circle class="p" cx="313.5" cy="836.2" r="4.4"/>
<circle class="p" cx="322.0" cy="841.7" r="4.4"/>
<circle class="b" cx="307.7" cy="843.3" r="4.4"/>
<circle class="t" cx="317.8" cy="848.7" r="4.4"/>
<circle class="b" cx="310.2" cy="850.3" r="4.4"/>
<circle class="t" cx="306.5" cy="854.7" r="4.4"/>
<circle class="o" cx="303.5" cy="859.2" r="4.4"/>
<circle class="b" cx="302.0" cy="859.7" r="4.4"/>
<circle class="o" cx="316.2" cy="862.0" r="4.4"/>
<circle class="b" cx="305.0" cy="868.0" r="4.4"/>
<circle class="b" cx="312.7" cy="868.8" r="4.4"/>
<circle class="o" cx="316.2" cy="873.7" r="4.4"/>
<circle class="b" cx="306.5" cy="875.5" r="4.4"/>
<circle class="b" cx="311.5" cy="874.7" r="4.4"/>
<circle class="p" cx="321.2" cy="878.3" r="4.4"/>
<circle class="p" cx="309.0" cy="880.0" r="4.4"/>
<circle class="b" cx="314.8" cy="884.2" r="4.4"/>
<circle class="p" cx="321.5" cy="886.2" r="4.4"/>
<circle class="b" cx="316.2" cy="887.5" r="4.4"/>
<circle class="o" cx="312.0" cy="893.7" r="4.4"/>
<circle class="o" cx="306.2" cy="898.3" r="4.4"/>
<circle class="t" cx="313.2" cy="896.7" r="4.4"/>
<circle class="t" cx="303.2" cy="907.2" r="4.4"/>
<circle class="o" cx="316.8" cy="907.0" r="4.4"/>
<circle class="p" cx="320.7" cy="913.3" r="4.4"/>
<circle class="p" cx="318.7" cy="919.2" r="4.4"/>
<circle class="o" cx="310.3" cy="923.3" r="4.4"/>
<circle class="t" cx="304.0" cy="925.8" r="4.4"/>
<circle class="p" cx="309.7" cy="943.8" r="4.4"/>
<circle class="b" cx="305.5" cy="950.5" r="4.4"/>
<circle class="b" cx="317.2" cy="958.3" r="4.4"/>
<circle class="b" cx="305.2" cy="964.5" r="4.4"/>
<circle class="b" cx="311.2" cy="963.3" r="4.4"/>
<circle class="t" cx="309.2" cy="971.7" r="4.4"/>
<circle class="p" cx="316.2" cy="982.0" r="4.4"/>
<circle class="p" cx="322.0" cy="985.0" r="4.4"/>
<circle class="o" cx="314.7" cy="994.0" r="4.4"/>
<circle class="b" cx="304.3" cy="997.7" r="4.4"/>
<circle class="p" cx="317.2" cy="1003.3" r="4.4"/>
<circle class="t" cx="318.2" cy="1009.2" r="4.4"/>
<circle class="b" cx="315.3" cy="1010.5" r="4.4"/>
<circle class="p" cx="308.5" cy="1013.3" r="4.4"/>
<circle class="o" cx="408.0" cy="632.3" r="4.4"/>
<circle class="o" cx="424.0" cy="644.0" r="4.4"/>
<circle class="o" cx="420.0" cy="647.0" r="4.4"/>
<circle class="o" cx="404.3" cy="663.8" r="4.4"/>
<circle class="o" cx="415.5" cy="664.8" r="4.4"/>
<circle class="o" cx="423.5" cy="683.5" r="4.4"/>
<circle class="o" cx="417.5" cy="719.2" r="4.4"/>
<circle class="p" cx="420.3" cy="733.7" r="4.4"/>
<circle class="p" cx="410.2" cy="738.7" r="4.4"/>
<circle class="o" cx="420.8" cy="739.7" r="4.4"/>
<circle class="o" cx="404.5" cy="745.5" r="4.4"/>
<circle class="b" cx="416.5" cy="748.0" r="4.4"/>
<circle class="o" cx="413.3" cy="751.7" r="4.4"/>
<circle class="o" cx="424.3" cy="773.8" r="4.4"/>
<circle class="p" cx="406.3" cy="781.7" r="4.4"/>
<circle class="o" cx="418.2" cy="800.7" r="4.4"/>
<circle class="o" cx="420.2" cy="809.2" r="4.4"/>
<circle class="o" cx="408.2" cy="815.3" r="4.4"/>
<circle class="p" cx="418.5" cy="815.3" r="4.4"/>
<circle class="p" cx="413.5" cy="821.3" r="4.4"/>
<circle class="p" cx="412.3" cy="824.7" r="4.4"/>
<circle class="p" cx="409.0" cy="832.0" r="4.4"/>
<circle class="b" cx="418.2" cy="838.7" r="4.4"/>
<circle class="b" cx="410.2" cy="847.2" r="4.4"/>
<circle class="b" cx="413.5" cy="848.8" r="4.4"/>
<circle class="o" cx="420.7" cy="850.8" r="4.4"/>
<circle class="b" cx="423.2" cy="855.0" r="4.4"/>
<circle class="b" cx="410.2" cy="855.3" r="4.4"/>
<circle class="b" cx="412.3" cy="858.0" r="4.4"/>
<circle class="p" cx="408.5" cy="862.5" r="4.4"/>
<circle class="o" cx="421.5" cy="861.8" r="4.4"/>
<circle class="b" cx="419.0" cy="880.0" r="4.4"/>
<circle class="b" cx="411.8" cy="883.0" r="4.4"/>
<circle class="p" cx="413.0" cy="883.7" r="4.4"/>
<circle class="t" cx="408.0" cy="887.0" r="4.4"/>
<circle class="t" cx="423.5" cy="888.0" r="4.4"/>
<circle class="o" cx="418.5" cy="889.7" r="4.4"/>
<circle class="p" cx="416.8" cy="895.8" r="4.4"/>
<circle class="t" cx="405.0" cy="897.2" r="4.4"/>
<circle class="o" cx="424.3" cy="899.7" r="4.4"/>
<circle class="b" cx="407.7" cy="902.5" r="4.4"/>
<circle class="b" cx="414.3" cy="902.5" r="4.4"/>
<circle class="t" cx="421.8" cy="904.2" r="4.4"/>
<circle class="p" cx="520.7" cy="596.7" r="4.4"/>
<circle class="o" cx="509.8" cy="599.5" r="4.4"/>
<circle class="t" cx="508.8" cy="616.3" r="4.4"/>
<circle class="p" cx="517.0" cy="619.3" r="4.4"/>
<circle class="o" cx="525.3" cy="637.2" r="4.4"/>
<circle class="t" cx="524.8" cy="642.0" r="4.4"/>
<circle class="t" cx="524.3" cy="670.8" r="4.4"/>
<circle class="p" cx="520.0" cy="679.7" r="4.4"/>
<circle class="t" cx="518.5" cy="683.3" r="4.4"/>
<circle class="o" cx="509.7" cy="692.0" r="4.4"/>
<circle class="t" cx="520.8" cy="702.8" r="4.4"/>
<circle class="o" cx="509.0" cy="711.3" r="4.4"/>
<circle class="t" cx="525.3" cy="712.2" r="4.4"/>
<circle class="o" cx="507.0" cy="723.3" r="4.4"/>
<circle class="o" cx="513.2" cy="730.8" r="4.4"/>
<circle class="o" cx="518.8" cy="747.2" r="4.4"/>
<circle class="t" cx="515.8" cy="748.7" r="4.4"/>
<circle class="b" cx="514.2" cy="751.7" r="4.4"/>
<circle class="b" cx="525.3" cy="753.3" r="4.4"/>
<circle class="p" cx="506.5" cy="755.8" r="4.4"/>
<circle class="t" cx="519.3" cy="767.7" r="4.4"/>
<circle class="p" cx="512.5" cy="768.0" r="4.4"/>
<circle class="b" cx="508.3" cy="769.2" r="4.4"/>
<circle class="p" cx="511.5" cy="776.8" r="4.4"/>
<circle class="t" cx="506.3" cy="784.3" r="4.4"/>
<circle class="p" cx="509.0" cy="793.0" r="4.4"/>
<circle class="b" cx="506.0" cy="798.3" r="4.4"/>
<circle class="p" cx="521.2" cy="798.7" r="4.4"/>
<circle class="b" cx="514.3" cy="803.3" r="4.4"/>
<circle class="p" cx="521.0" cy="802.8" r="4.4"/>
<circle class="o" cx="507.5" cy="805.0" r="4.4"/>
<circle class="o" cx="520.2" cy="808.7" r="4.4"/>
<circle class="p" cx="512.2" cy="809.7" r="4.4"/>
<circle class="b" cx="507.0" cy="812.8" r="4.4"/>
<circle class="t" cx="515.0" cy="815.3" r="4.4"/>
<circle class="b" cx="507.7" cy="825.8" r="4.4"/>
<circle class="b" cx="514.3" cy="826.7" r="4.4"/>
<circle class="p" cx="520.2" cy="829.5" r="4.4"/>
<circle class="b" cx="525.5" cy="831.7" r="4.4"/>
<circle class="b" cx="507.5" cy="836.2" r="4.4"/>
<circle class="b" cx="518.0" cy="835.3" r="4.4"/>
<circle class="b" cx="522.7" cy="838.0" r="4.4"/>
<circle class="o" cx="514.7" cy="840.0" r="4.4"/>
<circle class="b" cx="518.3" cy="842.5" r="4.4"/>
<circle class="b" cx="516.0" cy="852.8" r="4.4"/>
<circle class="o" cx="525.8" cy="855.0" r="4.4"/>
<circle class="p" cx="505.8" cy="858.7" r="4.4"/>
<circle class="p" cx="520.2" cy="859.2" r="4.4"/>
<circle class="b" cx="525.8" cy="862.5" r="4.4"/>
<circle class="p" cx="510.3" cy="864.7" r="4.4"/>
<circle class="p" cx="506.5" cy="870.8" r="4.4"/>
<circle class="b" cx="519.7" cy="870.5" r="4.4"/>
<circle class="t" cx="514.7" cy="880.0" r="4.4"/>
<circle class="p" cx="516.5" cy="885.0" r="4.4"/>
<circle class="p" cx="515.5" cy="890.3" r="4.4"/>
<circle class="t" cx="523.3" cy="893.8" r="4.4"/>
<circle class="b" cx="525.2" cy="913.3" r="4.4"/>
<circle class="b" cx="506.7" cy="916.7" r="4.4"/>
<circle class="b" cx="511.0" cy="928.0" r="4.4"/>
<circle class="b" cx="511.7" cy="932.5" r="4.4"/>
<circle class="t" cx="508.3" cy="944.5" r="4.4"/>
<circle class="o" cx="511.7" cy="959.5" r="4.4"/>
<circle class="p" cx="510.7" cy="969.8" r="4.4"/>
<circle class="p" cx="522.5" cy="971.5" r="4.4"/>
<circle class="p" cx="524.3" cy="990.7" r="4.4"/>
<circle class="b" cx="514.3" cy="995.3" r="4.4"/>
<circle class="t" cx="508.3" cy="1003.0" r="4.4"/>
<circle class="p" cx="520.2" cy="1005.0" r="4.4"/>
<circle class="b" cx="505.8" cy="1007.2" r="4.4"/>
<circle class="o" cx="415.2" cy="905.3" r="4.4"/>
<circle class="t" cx="413.8" cy="920.0" r="4.4"/>
<circle class="p" cx="418.5" cy="922.0" r="4.4"/>
<circle class="t" cx="424.3" cy="924.2" r="4.4"/>
<circle class="t" cx="405.7" cy="925.3" r="4.4"/>
<circle class="b" cx="410.5" cy="925.0" r="4.4"/>
<circle class="t" cx="413.8" cy="928.0" r="4.4"/>
<circle class="p" cx="424.7" cy="926.7" r="4.4"/>
<circle class="t" cx="423.5" cy="930.8" r="4.4"/>
<circle class="o" cx="416.3" cy="937.7" r="4.4"/>
<circle class="p" cx="408.8" cy="944.2" r="4.4"/>
<circle class="t" cx="411.8" cy="946.7" r="4.4"/>
<circle class="b" cx="419.5" cy="950.7" r="4.4"/>
<circle class="o" cx="404.3" cy="958.3" r="4.4"/>
<circle class="p" cx="416.0" cy="960.0" r="4.4"/>
<circle class="t" cx="408.8" cy="962.8" r="4.4"/>
<circle class="t" cx="408.8" cy="968.3" r="4.4"/>
<circle class="b" cx="424.0" cy="967.8" r="4.4"/>
<circle class="t" cx="411.0" cy="974.2" r="4.4"/>
<circle class="t" cx="418.2" cy="974.5" r="4.4"/>
<circle class="t" cx="415.5" cy="980.0" r="4.4"/>
<circle class="b" cx="404.7" cy="981.7" r="4.4"/>
<circle class="p" cx="424.0" cy="980.8" r="4.4"/>
<circle class="p" cx="414.8" cy="990.8" r="4.4"/>
<circle class="t" cx="405.3" cy="992.8" r="4.4"/>
<circle class="b" cx="424.3" cy="996.3" r="4.4"/>
<circle class="b" cx="423.8" cy="1002.0" r="4.4"/>
<circle class="p" cx="421.3" cy="1005.0" r="4.4"/>
<circle class="b" cx="420.7" cy="1008.0" r="4.4"/>
<circle class="b" cx="413.0" cy="1009.7" r="4.4"/>
<circle class="t" cx="404.3" cy="1014.7" r="4.4"/>
<circle class="o" cx="413.5" cy="1013.7" r="4.4"/>
<circle class="p" cx="419.3" cy="1015.3" r="4.4"/>
<circle class="o" cx="625.3" cy="703.3" r="4.4"/>
<circle class="o" cx="624.3" cy="708.8" r="4.4"/>
<circle class="o" cx="621.5" cy="723.8" r="4.4"/>
<circle class="o" cx="625.3" cy="736.7" r="4.4"/>
<circle class="o" cx="620.0" cy="739.3" r="4.4"/>
<circle class="o" cx="609.0" cy="748.2" r="4.4"/>
<circle class="o" cx="611.3" cy="756.0" r="4.4"/>
<circle class="o" cx="622.5" cy="753.8" r="4.4"/>
<circle class="t" cx="616.7" cy="774.2" r="4.4"/>
<circle class="t" cx="620.7" cy="780.0" r="4.4"/>
<circle class="t" cx="618.8" cy="787.2" r="4.4"/>
<circle class="o" cx="608.0" cy="789.5" r="4.4"/>
<circle class="o" cx="620.8" cy="793.3" r="4.4"/>
<circle class="b" cx="624.2" cy="799.3" r="4.4"/>
<circle class="o" cx="622.0" cy="814.2" r="4.4"/>
<circle class="o" cx="626.3" cy="813.3" r="4.4"/>
<circle class="o" cx="626.3" cy="820.5" r="4.4"/>
<circle class="t" cx="625.0" cy="831.2" r="4.4"/>
<circle class="t" cx="612.3" cy="839.2" r="4.4"/>
<circle class="o" cx="611.7" cy="850.8" r="4.4"/>
<circle class="t" cx="608.0" cy="852.8" r="4.4"/>
<circle class="p" cx="626.3" cy="853.0" r="4.4"/>
<circle class="p" cx="616.7" cy="856.3" r="4.4"/>
<circle class="p" cx="609.3" cy="857.5" r="4.4"/>
<circle class="t" cx="619.2" cy="864.2" r="4.4"/>
<circle class="t" cx="614.7" cy="862.5" r="4.4"/>
<circle class="o" cx="608.7" cy="865.8" r="4.4"/>
<circle class="p" cx="612.2" cy="870.8" r="4.4"/>
<circle class="b" cx="609.7" cy="872.0" r="4.4"/>
<circle class="b" cx="610.7" cy="879.2" r="4.4"/>
<circle class="o" cx="612.8" cy="882.5" r="4.4"/>
<circle class="b" cx="627.5" cy="880.8" r="4.4"/>
<circle class="p" cx="625.3" cy="883.3" r="4.4"/>
<circle class="b" cx="621.7" cy="889.7" r="4.4"/>
<circle class="b" cx="608.7" cy="892.8" r="4.4"/>
<circle class="o" cx="618.0" cy="892.8" r="4.4"/>
<circle class="b" cx="617.5" cy="894.2" r="4.4"/>
<circle class="o" cx="607.8" cy="899.5" r="4.4"/>
<circle class="p" cx="618.8" cy="902.5" r="4.4"/>
<circle class="b" cx="616.7" cy="901.7" r="4.4"/>
<circle class="p" cx="626.3" cy="907.5" r="4.4"/>
<circle class="t" cx="615.3" cy="910.8" r="4.4"/>
<circle class="o" cx="620.8" cy="915.0" r="4.4"/>
<circle class="p" cx="608.3" cy="917.8" r="4.4"/>
<circle class="b" cx="620.3" cy="920.5" r="4.4"/>
<circle class="p" cx="610.8" cy="923.3" r="4.4"/>
<circle class="b" cx="610.8" cy="930.3" r="4.4"/>
<circle class="p" cx="623.3" cy="934.5" r="4.4"/>
<circle class="t" cx="625.8" cy="935.0" r="4.4"/>
<circle class="t" cx="611.3" cy="935.0" r="4.4"/>
<circle class="p" cx="610.3" cy="937.5" r="4.4"/>
<circle class="p" cx="623.7" cy="941.7" r="4.4"/>
<circle class="o" cx="610.7" cy="945.5" r="4.4"/>
<circle class="p" cx="625.2" cy="946.2" r="4.4"/>
<circle class="t" cx="609.0" cy="949.7" r="4.4"/>
<circle class="t" cx="609.0" cy="953.0" r="4.4"/>
<circle class="b" cx="622.8" cy="953.3" r="4.4"/>
<circle class="t" cx="625.3" cy="955.0" r="4.4"/>
<circle class="b" cx="616.7" cy="955.8" r="4.4"/>
<circle class="p" cx="625.0" cy="958.7" r="4.4"/>
<circle class="b" cx="612.8" cy="960.5" r="4.4"/>
<circle class="t" cx="618.0" cy="968.0" r="4.4"/>
<circle class="o" cx="618.0" cy="974.2" r="4.4"/>
<circle class="b" cx="627.5" cy="975.5" r="4.4"/>
<circle class="p" cx="622.2" cy="977.2" r="4.4"/>
<circle class="t" cx="610.0" cy="983.3" r="4.4"/>
<circle class="b" cx="611.7" cy="985.0" r="4.4"/>
<circle class="t" cx="620.0" cy="985.0" r="4.4"/>
<circle class="b" cx="627.8" cy="992.8" r="4.4"/>
<circle class="p" cx="612.6" cy="993.8" r="4.4"/>
<circle class="p" cx="624.0" cy="995.1" r="4.4"/>
<circle class="p" cx="618.9" cy="997.5" r="4.4"/>
<circle class="b" cx="610.3" cy="1003.2" r="4.4"/>
<circle class="p" cx="624.0" cy="1009.3" r="4.4"/>
<circle class="b" cx="619.6" cy="1010.2" r="4.4"/>
<circle class="p" cx="621.1" cy="1014.0" r="4.4"/>
<circle class="o" cx="721.1" cy="933.9" r="4.4"/>
<circle class="o" cx="725.9" cy="939.6" r="4.4"/>
<circle class="o" cx="709.4" cy="943.0" r="4.4"/>
<circle class="t" cx="718.3" cy="944.9" r="4.4"/>
<circle class="t" cx="709.8" cy="948.7" r="4.4"/>
<circle class="o" cx="715.8" cy="947.3" r="4.4"/>
<circle class="o" cx="723.4" cy="949.6" r="4.4"/>
<circle class="p" cx="713.9" cy="953.4" r="4.4"/>
<circle class="o" cx="721.5" cy="955.3" r="4.4"/>
<circle class="o" cx="726.8" cy="954.7" r="4.4"/>
<circle class="t" cx="709.8" cy="963.3" r="4.4"/>
<circle class="t" cx="722.5" cy="962.9" r="4.4"/>
<circle class="o" cx="712.0" cy="967.0" r="4.4"/>
<circle class="o" cx="710.2" cy="972.3" r="4.4"/>
<circle class="p" cx="713.9" cy="973.3" r="4.4"/>
<circle class="b" cx="723.0" cy="971.4" r="4.4"/>
<circle class="p" cx="729.7" cy="971.4" r="4.4"/>
<circle class="b" cx="717.7" cy="979.0" r="4.4"/>
<circle class="b" cx="730.6" cy="979.0" r="4.4"/>
<circle class="o" cx="712.0" cy="982.8" r="4.4"/>
<circle class="t" cx="710.2" cy="986.6" r="4.4"/>
<circle class="p" cx="713.0" cy="984.7" r="4.4"/>
<circle class="p" cx="725.9" cy="982.8" r="4.4"/>
<circle class="t" cx="731.0" cy="983.7" r="4.4"/>
<circle class="b" cx="726.2" cy="991.3" r="4.4"/>
<circle class="o" cx="710.5" cy="992.2" r="4.4"/>
<circle class="p" cx="714.9" cy="994.1" r="4.4"/>
<circle class="t" cx="731.0" cy="997.0" r="4.4"/>
<circle class="t" cx="710.2" cy="997.0" r="4.4"/>
<circle class="p" cx="721.5" cy="997.0" r="4.4"/>
<circle class="p" cx="726.2" cy="997.9" r="4.4"/>
<circle class="p" cx="715.8" cy="1000.8" r="4.4"/>
<circle class="p" cx="712.0" cy="1005.5" r="4.4"/>
<circle class="t" cx="728.1" cy="1004.5" r="4.4"/>
<circle class="p" cx="721.5" cy="1003.6" r="4.4"/>
<circle class="b" cx="713.0" cy="1012.1" r="4.4"/>
<circle class="p" cx="718.7" cy="1010.2" r="4.4"/>
<circle class="p" cx="724.4" cy="1011.2" r="4.4"/>
<circle class="b" cx="729.1" cy="1014.0" r="4.4"/>
<circle class="p" cx="721.5" cy="1014.0" r="4.4"/>
<circle class="o" cx="719.6" cy="951.5" r="4.4"/>
<circle class="o" cx="724.4" cy="956.2" r="4.4"/>
<circle class="o" cx="716.8" cy="957.2" r="4.4"/>
<circle class="b" cx="727.2" cy="974.2" r="4.4"/>
<circle class="b" cx="719.6" cy="979.9" r="4.4"/>
<circle class="b" cx="727.2" cy="990.3" r="4.4"/>
<circle class="p" cx="712.0" cy="974.2" r="4.4"/>
<circle class="p" cx="718.7" cy="976.1" r="4.4"/>
<circle class="p" cx="725.3" cy="977.1" r="4.4"/>
<circle class="p" cx="715.8" cy="981.8" r="4.4"/>
<circle class="p" cx="721.5" cy="983.7" r="4.4"/>
<circle class="p" cx="727.2" cy="985.6" r="4.4"/>
<circle class="p" cx="713.9" cy="988.4" r="4.4"/>
<circle class="p" cx="719.6" cy="990.3" r="4.4"/>
<circle class="p" cx="724.4" cy="981.8" r="4.4"/>
<circle class="p" cx="715.8" cy="997.0" r="4.4"/>
<circle class="p" cx="719.6" cy="1000.8" r="4.4"/>
<circle class="p" cx="723.4" cy="1004.5" r="4.4"/>
<circle class="p" cx="714.9" cy="1006.4" r="4.4"/>
<circle class="p" cx="727.2" cy="1000.8" r="4.4"/>
<circle class="p" cx="717.7" cy="1006.4" r="4.4"/>
<circle class="p" cx="721.5" cy="1009.3" r="4.4"/>
<circle class="p" cx="713.9" cy="1002.7" r="4.4"/>
<circle class="p" cx="725.3" cy="1008.3" r="4.4"/>
<circle class="o" cx="710.5" cy="910.0" r="4.4"/>
<circle class="o" cx="719.4" cy="915.5" r="4.4"/>
<circle class="o" cx="728.0" cy="920.5" r="4.4"/>
</g>
<path class="ax" d="M149.70 593.25V1018.05H882.80"/>
<line class="ax" x1="144.00" y1="1018.05" x2="149.70" y2="1018.05"/>
<text x="131.8" y="1025.5" font-size="24" textLength="14.1" lengthAdjust="spacingAndGlyphs" text-anchor="end">0</text>
<line class="ax" x1="144.00" y1="932.85" x2="149.70" y2="932.85"/>
<text x="131.8" y="940.5" font-size="24" textLength="78.5" lengthAdjust="spacingAndGlyphs" text-anchor="end">10,000</text>
<line class="ax" x1="144.00" y1="847.95" x2="149.70" y2="847.95"/>
<text x="132.0" y="855.5" font-size="24" textLength="81.8" lengthAdjust="spacingAndGlyphs" text-anchor="end">20,000</text>
<line class="ax" x1="144.00" y1="763.05" x2="149.70" y2="763.05"/>
<text x="132.2" y="770.4" font-size="24" textLength="82.6" lengthAdjust="spacingAndGlyphs" text-anchor="end">30,000</text>
<line class="ax" x1="144.00" y1="678.15" x2="149.70" y2="678.15"/>
<text x="132.0" y="685.3" font-size="24" textLength="82.5" lengthAdjust="spacingAndGlyphs" text-anchor="end">40,000</text>
<line class="ax" x1="144.00" y1="593.25" x2="149.70" y2="593.25"/>
<text x="132.0" y="600.4" font-size="24" textLength="82.5" lengthAdjust="spacingAndGlyphs" text-anchor="end">50,000</text>
<line class="tk" x1="210.60" y1="1018.05" x2="210.60" y2="1023.45"/>
<text class="it" x="210.1" y="1057.9" font-size="27.6" textLength="35.0" lengthAdjust="spacingAndGlyphs" text-anchor="middle">crt</text>
<line class="tk" x1="312.45" y1="1018.05" x2="312.45" y2="1023.45"/>
<text class="it" x="311.9" y="1057.9" font-size="27.6" textLength="51.0" lengthAdjust="spacingAndGlyphs" text-anchor="middle">dhfr</text>
<line class="tk" x1="414.30" y1="1018.05" x2="414.30" y2="1023.45"/>
<text class="it" x="414.6" y="1057.9" font-size="27.6" textLength="62.0" lengthAdjust="spacingAndGlyphs" text-anchor="middle">dhps</text>
<line class="tk" x1="516.15" y1="1018.05" x2="516.15" y2="1023.45"/>
<text class="it" x="515.9" y="1057.9" font-size="27.6" textLength="60.6" lengthAdjust="spacingAndGlyphs" text-anchor="middle">mdr1</text>
<line class="tk" x1="618.00" y1="1018.05" x2="618.00" y2="1023.45"/>
<text class="it" x="617.7" y="1057.9" font-size="27.6" textLength="92.4" lengthAdjust="spacingAndGlyphs" text-anchor="middle">kelch13</text>
<line class="tk" x1="719.85" y1="1018.05" x2="719.85" y2="1023.45"/>
<text class="it" x="719.5" y="1057.9" font-size="27.6" textLength="44.8" lengthAdjust="spacingAndGlyphs" text-anchor="middle">csp</text>
<line class="tk" x1="821.70" y1="1018.05" x2="821.70" y2="1023.45"/>
<text class="it" x="822.0" y="1057.9" font-size="27.6" textLength="64.7" lengthAdjust="spacingAndGlyphs" text-anchor="middle">msp1</text>
<text transform="translate(23.0 806.0) rotate(-90)" font-size="28.3" textLength="204.2" lengthAdjust="spacingAndGlyphs" text-anchor="middle">Coverage depth</text>
<text class="pl" x="-0.1" y="583.2" font-size="38" textLength="25.9" lengthAdjust="spacingAndGlyphs" stroke="#000" stroke-width="0.8">b</text>
<text x="911.0" y="737.0" font-size="28" textLength="144.6" lengthAdjust="spacingAndGlyphs">MinION.run</text>
<circle class="t" cx="934.2" cy="768.9" r="4.4"/>
<text x="947.0" y="776.9" font-size="28.3" textLength="76.3" lengthAdjust="spacingAndGlyphs">DBS A</text>
<circle class="o" cx="934.2" cy="804.2" r="4.4"/>
<text x="947.0" y="812.2" font-size="28.3" textLength="75.1" lengthAdjust="spacingAndGlyphs">DBS B</text>
<circle class="b" cx="934.2" cy="839.6" r="4.4"/>
<text x="947.0" y="847.6" font-size="28.3" textLength="78.6" lengthAdjust="spacingAndGlyphs">DBS C</text>
<circle class="p" cx="934.2" cy="875.0" r="4.4"/>
<text x="947.0" y="883.0" font-size="28.3" textLength="77.8" lengthAdjust="spacingAndGlyphs">DBS D</text>
</svg></body></html>
